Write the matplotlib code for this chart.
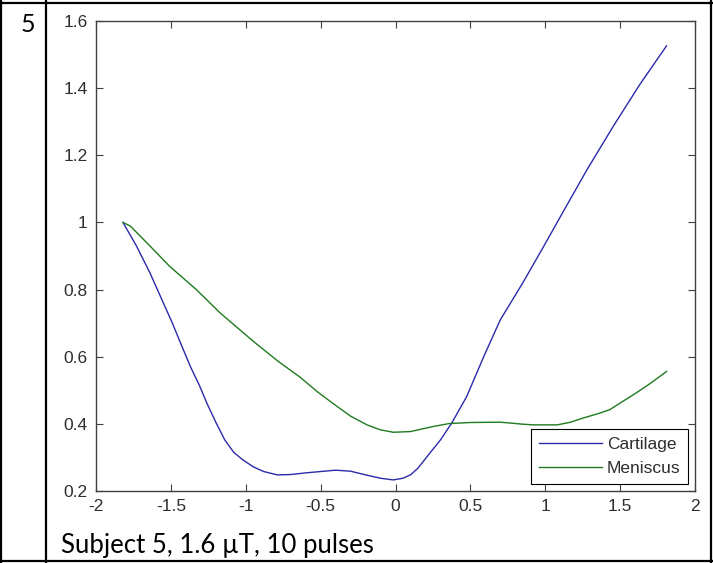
import matplotlib
matplotlib.use("Agg")
import matplotlib.pyplot as plt
from matplotlib.lines import Line2D

# Normalised signal vs. frequency offset
cart_x = [-1.82, -1.73, -1.64, -1.55, -1.49, -1.43, -1.37, -1.31, -1.26, -1.20,
          -1.14, -1.08, -1.02, -0.95, -0.88, -0.79, -0.70, -0.60, -0.50, -0.40,
          -0.30, -0.20, -0.10, -0.015, 0.05, 0.10, 0.15, 0.21, 0.30, 0.375,
          0.475, 0.59, 0.70, 0.85, 0.99, 1.13, 1.28, 1.455, 1.63, 1.81]
cart_y = [1.00, 0.93, 0.85, 0.76, 0.70, 0.635, 0.571, 0.515, 0.462, 0.405,
          0.352, 0.315, 0.293, 0.272, 0.258, 0.248, 0.249, 0.254, 0.258, 0.262,
          0.259, 0.248, 0.238, 0.233, 0.238, 0.248, 0.268, 0.302, 0.352, 0.402,
          0.481, 0.601, 0.710, 0.820, 0.929, 1.040, 1.158, 1.287, 1.410, 1.526]

men_x = [-1.82, -1.77, -1.64, -1.51, -1.33, -1.17, -0.95, -0.78, -0.64, -0.52,
         -0.415, -0.30, -0.19, -0.10, -0.015, 0.10, 0.25, 0.36, 0.50, 0.70,
         0.85, 0.92, 1.08, 1.17, 1.25, 1.35, 1.43, 1.50, 1.60, 1.70, 1.81]
men_y = [1.00, 0.989, 0.930, 0.870, 0.800, 0.730, 0.646, 0.585, 0.540, 0.495,
         0.460, 0.423, 0.397, 0.382, 0.375, 0.377, 0.392, 0.401, 0.404, 0.405,
         0.399, 0.397, 0.397, 0.405, 0.417, 0.430, 0.442, 0.462, 0.490, 0.520, 0.556]

series_names = ["Cartilage", "Meniscus"]
x_ticks = [-2, -1.5, -1, -0.5, 0, 0.5, 1, 1.5, 2]
x_tick_labels = ["-2", "-1.5", "-1", "-0.5", "0", "0.5", "1", "1.5", "2"]
y_ticks = [0.2, 0.4, 0.6, 0.8, 1.0, 1.2, 1.4, 1.6]
y_tick_labels = ["0.2", "0.4", "0.6", "0.8", "1", "1.2", "1.4", "1.6"]
row_label = "5"
caption = "Subject 5, 1.6 \u00b5T, 10 pulses"

W, H = 713, 563
fig = plt.figure(figsize=(W / 100, H / 100), dpi=100)
fig.patch.set_facecolor("white")

def fx(px):
    return px / W

def fy(py):
    return 1 - py / H

# table cell borders
for (x0, y0, x1, y1) in [(0, 2.5, W, 2.5), (0, 561, W, 561),
                         (1, 0, 1, H), (46, 0, 46, H), (711, 0, 711, H)]:
    fig.add_artist(Line2D([fx(x0), fx(x1)], [fy(y0), fy(y1)],
                          transform=fig.transFigure, color="black", lw=1.6))

fig.text(fx(27.5), fy(24), row_label, ha="center", va="center",
         fontsize=18, family="Lato", color="black")
fig.text(fx(61), fy(546), caption, ha="left", va="center",
         fontsize=18.5, family="Lato", color="black")

ax_l, ax_r, ax_t, ax_b = 96, 695, 21, 491
ax = fig.add_axes([fx(ax_l), fy(ax_b), (ax_r - ax_l) / W, (ax_b - ax_t) / H])
ax.set_facecolor("white")

ax.plot(cart_x, cart_y, color="#2a2aaa", lw=1.0, label=series_names[0])
ax.plot(men_x, men_y, color="#1f7a1f", lw=1.0, label=series_names[1])

ax.set_xlim(-2, 2)
ax.set_ylim(0.2, 1.6)
ax.set_xticks(x_ticks)
ax.set_xticklabels(x_tick_labels)
ax.set_yticks(y_ticks)
ax.set_yticklabels(y_tick_labels)

tick_color = "#2e2e2e"
for lab in ax.get_xticklabels() + ax.get_yticklabels():
    lab.set_family("Liberation Sans")
    lab.set_fontsize(12.5)
    lab.set_color(tick_color)
ax.tick_params(direction="in", length=5, width=0.8, color="#404040",
               top=True, right=True, pad=6)
for s in ax.spines.values():
    s.set_color("#404040")
    s.set_linewidth(1.0)

leg = ax.legend(loc="lower right", bbox_to_anchor=(0.989, 0.015),
                borderaxespad=0, fancybox=False, framealpha=1,
                edgecolor="black", handlelength=3.6, handletextpad=0.3,
                labelspacing=0.5, borderpad=0.45,
                prop={"family": "Liberation Sans", "size": 12.5})
leg.get_frame().set_linewidth(0.8)
for t in leg.get_texts():
    t.set_color(tick_color)

fig.savefig("out.png", dpi=100, facecolor="white")
